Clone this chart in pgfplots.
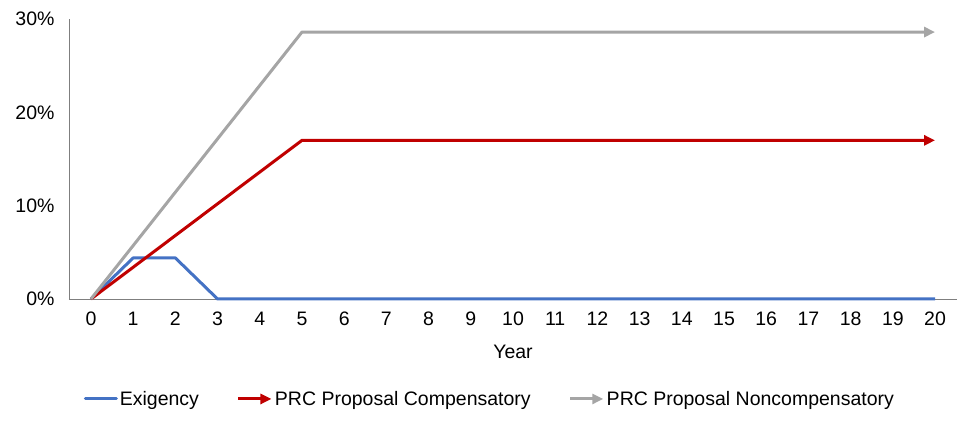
\documentclass[border=0pt]{standalone}
\usepackage{fontspec}
\setmainfont{Liberation Sans}
\usepackage{pgfplots}
\pgfplotsset{compat=1.18}
\usetikzlibrary{arrows.meta}
\definecolor{cblue}{HTML}{4472C4}
\definecolor{cred}{HTML}{C00000}
\definecolor{cgray}{HTML}{A5A5A5}
\definecolor{caxis}{HTML}{7F7F7F}
\begin{document}
\begin{tikzpicture}
\useasboundingbox (-69pt,-128pt) rectangle (906pt,299pt);
\begin{axis}[
  at={(0pt,0pt)}, anchor=south west,
  scale only axis, width=888pt, height=280pt,
  xmin=-0.52, xmax=20.52, ymin=0, ymax=30,
  axis lines*=left,
  axis line style={caxis, line width=0.8pt},
  xtick={0,1,...,20}, ytick={0,10,20,30},
  major tick length=0pt,
  yticklabel={\pgfmathprintnumber{\tick}\%},
  /pgf/number format/assume math mode=true,
  tick label style={font=\fontsize{19.5}{23}\selectfont, text height=14pt, text depth=0pt},
  xticklabel style={anchor=north, yshift=-9pt},
  yticklabel style={anchor=east, xshift=-11pt},
  xlabel={Year},
  xlabel style={font=\fontsize{19.5}{23}\selectfont, at={(axis description cs:0.5,-0.19)}, anchor=center},
  legend style={at={(axis description cs:0.474,-0.357)}, anchor=center, draw=none,
    font=\fontsize{19.5}{23}\selectfont, legend columns=3,
    /tikz/every even column/.append style={column sep=36pt}},
  clip=false,
]
\addplot[cblue, line width=3pt, line join=round,
  legend image code/.code={\draw[cblue, line width=3pt, line cap=round] (0pt,0pt) -- (31pt,0pt);}]
  coordinates {(0,0) (1,4.4) (2,4.4) (3,0) (4,0) (5,0) (6,0) (7,0) (8,0) (9,0) (10,0) (11,0) (12,0) (13,0) (14,0) (15,0) (16,0) (17,0) (18,0) (19,0) (20,0)};
\addlegendentry{Exigency}
\addplot[cred, line width=3pt, line join=round, -{Triangle[length=11pt,width=10pt]},
  legend image code/.code={\draw[cred, line width=3pt, -{Triangle[length=11pt,width=10pt]}] (0pt,0pt) -- (33pt,0pt);}]
  coordinates {(0,0) (1,3.4) (2,6.8) (3,10.2) (4,13.6) (5,17.0) (6,17.0) (7,17.0) (8,17.0) (9,17.0) (10,17.0) (11,17.0) (12,17.0) (13,17.0) (14,17.0) (15,17.0) (16,17.0) (17,17.0) (18,17.0) (19,17.0) (20,17.0)};
\addlegendentry{PRC Proposal Compensatory}
\addplot[cgray, line width=3pt, line join=round, -{Triangle[length=11pt,width=10pt]},
  legend image code/.code={\draw[cgray, line width=3pt, -{Triangle[length=11pt,width=10pt]}] (0pt,0pt) -- (33pt,0pt);}]
  coordinates {(0,0) (1,5.72) (2,11.44) (3,17.16) (4,22.88) (5,28.6) (6,28.6) (7,28.6) (8,28.6) (9,28.6) (10,28.6) (11,28.6) (12,28.6) (13,28.6) (14,28.6) (15,28.6) (16,28.6) (17,28.6) (18,28.6) (19,28.6) (20,28.6)};
\addlegendentry{PRC Proposal Noncompensatory}
\end{axis}
\end{tikzpicture}
\end{document}
